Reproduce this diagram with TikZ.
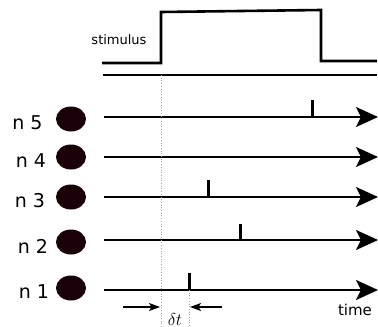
\documentclass[tikz,border=0pt]{standalone}
\usepackage{fontspec}
\setsansfont{DejaVu Sans}
\usetikzlibrary{arrows.meta}
\usetikzlibrary{shapes.geometric}
\usetikzlibrary{positioning}
\definecolor{cellfill}{RGB}{26,0,8}

\begin{document}
\begin{tikzpicture}[x=1pt, y=-1pt,
  axis/.style={line width=2.2pt, -{Stealth[length=22pt, width=20pt, inset=5pt]}},
  cell/.style={ellipse, fill=cellfill, minimum width=30pt, minimum height=25pt, inner sep=0pt},
  celllabel/.style={font=\sffamily\fontsize{19}{21}\selectfont, inner sep=0pt, yshift=-4pt},
  spike/.style={line width=3pt},
  guide/.style={gray!70, dotted, line width=0.7pt},
  gap/.style={line width=1.1pt, -{Stealth[length=11pt, width=8pt, inset=2.5pt]}}]
  \useasboundingbox (0,0) rectangle (378,327);
  % stimulus
  \draw [line width=2.6pt] (102,63) -- (161,63) -- (161,12) -- (321,10) -- (321,61) -- (377,61);
  \draw [line width=2.2pt] (103,75) -- (377,75);
  \node [font=\sffamily\fontsize{13}{15}\selectfont] (stim) at (119,40) {stimulus};
  % neurons and their time axes
  \foreach \i/\cy/\ay/\lx in {5/119/117/13, 4/157/157/9.5, 3/197/197/10.5, 2/242/240/7.5, 1/288/290/6.5} {
    \node [cell] (n\i) at (71,\cy) {};
    \node [celllabel, left=\lx pt of n\i] (l\i) {n \i};
    \coordinate (a\i) at (104,\ay);
    \coordinate (e\i) at (378,\ay);
    \draw [axis] (a\i) -- (e\i);
  }
  % spikes
  \draw [spike] (312,117) -- ++(0,-17);
  \draw [spike] (208,197) -- ++(0,-17);
  \draw [spike] (240,240) -- ++(0,-16);
  \draw [spike] (189,290) -- ++(0,-17);
  % delay
  \coordinate (d1) at (161,75);
  \coordinate (d2) at (161,327);
  \coordinate (s1) at (189,290);
  \coordinate (s2) at (189,327);
  \draw [guide] (d1) -- (d2);
  \draw [guide] (s1) -- (s2);
  \coordinate (g1) at (123,307);
  \coordinate (g2) at (160,307);
  \coordinate (g3) at (222,307);
  \coordinate (g4) at (190,307);
  \draw [gap] (g1) -- (g2);
  \draw [gap] (g3) -- (g4);
  \node [font=\fontsize{17}{19}\selectfont] (dt) at (175,319) {$\delta t$};
  \node [font=\sffamily\fontsize{15}{17}\selectfont] (time) at (355,310) {time};
\end{tikzpicture}
\end{document}
